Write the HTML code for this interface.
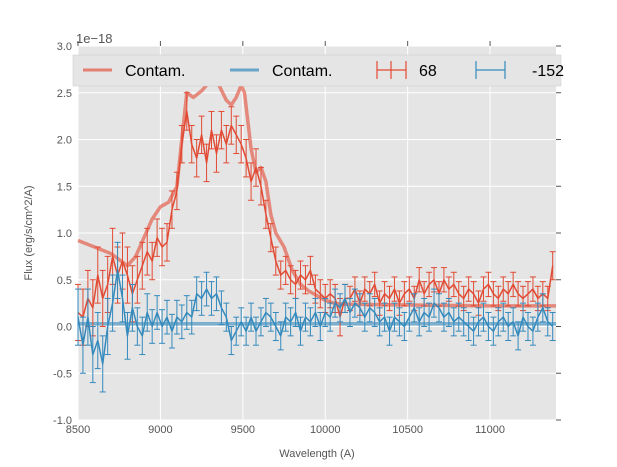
<!DOCTYPE html>
<html><head><meta charset="utf-8"><style>
body{margin:0;background:#fff;}
svg{display:block;font-family:"Liberation Sans",sans-serif;}
</style></head><body>
<svg id="chart" width="617" height="467" viewBox="0 0 617 467">
<rect x="78" y="46" width="478" height="374" fill="#E5E5E5"/>
<g id="grid"></g><g id="series"></g><g id="axes"></g>
<g>
<rect x="73" y="55" width="488" height="31" fill="#E5E5E5" stroke="#ccc" stroke-width="0.5"/>
<line x1="83" y1="70" x2="112" y2="70" stroke="#E24A33" stroke-opacity="0.65" stroke-width="3"/>
<text x="125" y="76" font-size="16">Contam.</text>
<line x1="230" y1="70" x2="259" y2="70" stroke="#348ABD" stroke-opacity="0.7" stroke-width="3"/>
<text x="272" y="76" font-size="16">Contam.</text>
<g stroke="#E24A33" stroke-width="1.2"><line x1="377" y1="70" x2="406" y2="70"/><line x1="391" y1="61" x2="391" y2="79"/><line x1="377" y1="61" x2="377" y2="79"/><line x1="406" y1="61" x2="406" y2="79"/></g>
<text x="419" y="76" font-size="16">68</text>
<g stroke="#348ABD" stroke-width="1.2"><line x1="476" y1="70" x2="505" y2="70"/><line x1="476" y1="61" x2="476" y2="79"/><line x1="505" y1="61" x2="505" y2="79"/></g>
<text x="532" y="76" font-size="16">-152</text>
</g>
<text x="76" y="43" font-size="13" fill="#555">1e−18</text>
<text x="317" y="457" font-size="11" fill="#555" text-anchor="middle">Wavelength (A)</text>
<text transform="translate(32,233) rotate(-90)" font-size="11" fill="#555" text-anchor="middle">Flux (erg/s/cm^2/A)</text>
</svg>
<script>
const xTicks=[8500,9000,9500,10000,10500,11000];
const yTicks=[-1.0,-0.5,0.0,0.5,1.0,1.5,2.0,2.5,3.0];
const wlStart=8500, wlStep=30;
const redVals=[0.15,0.1,0.3,0.2,0.55,0.3,0.45,0.75,0.55,0.7,0.55,0.35,0.5,0.65,0.8,0.7,0.95,0.85,0.9,1.25,1.45,1.95,2.3,1.95,1.8,2.05,1.75,2.1,1.85,2.1,1.95,2.15,2.05,1.95,1.8,1.55,1.7,1.5,1.2,0.95,0.7,0.55,0.6,0.5,0.45,0.55,0.5,0.6,0.4,0.35,0.3,0.35,0.3,0.1,0.3,
0.3,0.4,0.25,0.4,0.35,0.45,0.25,0.35,0.3,0.4,0.25,0.35,0.4,0.3,0.5,0.35,0.45,0.5,0.35,0.5,0.4,0.45,0.35,0.3,0.4,0.35,0.25,0.4,0.45,0.35,0.3,0.4,0.35,0.45,0.35,0.3,0.35,0.4,0.3,0.35,0.3,0.65];
const redErr=[0.3,0.3,0.3,0.3,0.3,0.3,0.3,0.3,0.3,0.3,0.3,0.3,0.25,0.25,0.25,0.2,0.2,0.2,0.2,0.2,0.2,0.2,0.2,0.2,0.2,0.2,0.2,0.2,0.2,0.2,0.2,0.2,0.2,0.2,0.2,0.2,0.2,0.2,0.15,0.15,0.15,0.15,0.15,0.15,0.15,0.15,0.15,0.15,0.15,0.15,0.15,0.15,0.15,0.2,0.15,
0.13,0.13,0.13,0.13,0.13,0.13,0.13,0.13,0.13,0.13,0.13,0.13,0.13,0.13,0.13,0.13,0.13,0.13,0.13,0.13,0.13,0.13,0.13,0.13,0.13,0.13,0.13,0.13,0.13,0.13,0.13,0.13,0.13,0.13,0.13,0.13,0.13,0.13,0.13,0.13,0.13,0.15];
const blueVals=[0.1,-0.2,0.1,-0.3,-0.15,-0.4,0.0,0.25,0.6,0.3,-0.1,0.2,0.0,-0.1,0.15,0.0,0.15,0.0,0.1,-0.05,0.1,0.05,0.15,0.1,0.35,0.3,0.4,0.3,0.35,0.2,0.1,-0.15,-0.05,0.05,-0.05,0.1,-0.05,0.05,0.15,0.1,0.0,-0.1,0.1,0.05,0.15,-0.05,0.1,0.05,0.15,0.0,0.15,0.1,0.25,0.2,0.3,0.15,0.25,0.2,0.1,0.2,0.15,0.05,0.1,-0.05,0.1,0.05,0.0,0.1,0.2,0.05,0.15,0.1,0.25,0.2,0.1,0.15,0.05,0.1,0.05,0.0,-0.05,0.05,0.1,0.0,-0.05,0.05,0.1,0.0,0.05,-0.1,0.1,0.0,-0.05,0.1,0.2,0.05,0.0];
const blueErr=[0.3,0.3,0.3,0.3,0.3,0.3,0.3,0.3,0.3,0.25,0.25,0.25,0.2,0.2,0.2,0.18,0.18,0.18,0.18,0.18,0.18,0.18,0.18,0.18,0.18,0.18,0.18,0.18,0.18,0.18,0.15,0.15,0.15,0.15,0.15,0.15,0.15,0.15,0.15,0.15,0.15,0.15,0.15,0.15,0.15,0.15,0.15,0.15,0.15,0.15,0.15,0.15,0.15,0.15,0.15,0.15,0.15,0.15,0.15,0.15,0.15,0.15,0.15,0.15,0.15,0.15,0.15,0.15,0.15,0.15,0.15,0.15,0.15,0.15,0.15,0.15,0.15,0.15,0.15,0.15,0.15,0.15,0.15,0.15,0.15,0.15,0.15,0.15,0.15,0.15,0.15,0.15,0.15,0.15,0.15,0.15,0.15];
const contamRedWl=[8500,8600,8700,8800,8850,8900,8950,9000,9050,9100,9130,9160,9200,9250,9300,9350,9400,9430,9460,9490,9510,9550,9580,9610,9640,9670,9700,9750,9800,9850,9900,9950,10000,10050,10100,10500,11000,11400];
const contamRedVals=[0.92,0.85,0.78,0.65,0.75,0.95,1.15,1.28,1.33,1.5,2.0,2.5,2.45,2.52,2.62,2.6,2.42,2.37,2.45,2.58,2.5,1.9,1.65,1.7,1.55,1.2,1.0,0.85,0.6,0.45,0.38,0.33,0.28,0.25,0.24,0.23,0.22,0.22];
const contamBlueWl=[8500,11400];
const contamBlueVals=[0.03,0.03];

const NS="http://www.w3.org/2000/svg";
const X0=78,X1=556,Y0=420,Y1=46;
function xs(w){return X0+(w-8500)/(11400-8500)*(X1-X0);}
function ys(v){return Y0-(v+1)/4*(Y0-Y1);}
function mk(tag,attrs,parent){const e=document.createElementNS(NS,tag);for(const k in attrs)e.setAttribute(k,attrs[k]);parent.appendChild(e);return e;}
const grid=document.getElementById('grid'),axes=document.getElementById('axes'),ser=document.getElementById('series');
xTicks.forEach(t=>{const g=mk('line',{x1:xs(t),x2:xs(t),y1:Y1,y2:Y0,stroke:'#fff','stroke-width':1},grid);


mk('line',{x1:xs(t),x2:xs(t),y1:Y1-5,y2:Y1,stroke:'#555'},axes);
const l=mk('text',{x:xs(t),y:Y0+13,'font-size':11,fill:'#555','text-anchor':'middle'},axes);l.textContent=t;

});
yTicks.forEach(t=>{const g=mk('line',{x1:X0,x2:X1,y1:ys(t),y2:ys(t),stroke:'#fff','stroke-width':1},grid);


mk('line',{x1:X1,x2:X1+5,y1:ys(t),y2:ys(t),stroke:'#555'},axes);
const l=mk('text',{x:X0-6,y:ys(t)+4,'font-size':11,fill:'#555','text-anchor':'end'},axes);l.textContent=t.toFixed(1);

});
function line(wl,vals,color,w,op,name){const p=wl.map((x,i)=>xs(x).toFixed(1)+','+ys(vals[i]).toFixed(1)).join(' ');
const e=mk('polyline',{points:p,fill:'none',stroke:color,'stroke-width':w,'stroke-opacity':op,'stroke-linejoin':'round'},ser);

}
function errSeries(vals,errs,color,name){const wl=vals.map((v,i)=>wlStart+i*wlStep);
const g=mk('g',{stroke:color,'stroke-width':1},ser);


vals.forEach((v,i)=>{const x=xs(wl[i]),e=errs[i]||0.12,a=ys(v+e),b=ys(v-e);
mk('line',{x1:x,x2:x,y1:a,y2:b},g);mk('line',{x1:x-3,x2:x+3,y1:a,y2:a},g);mk('line',{x1:x-3,x2:x+3,y1:b,y2:b},g);});
line(wl,vals,color,1.5,1,name+'-line');}
line(contamRedWl,contamRedVals,'#E24A33',3.5,0.6,'contam-red-line');
line(contamBlueWl,contamBlueVals,'#348ABD',3.5,0.6,'contam-blue-line');
errSeries(redVals,redErr,'#E24A33','series-68');
errSeries(blueVals,blueErr,'#348ABD','series-152');
</script>
</body></html>
